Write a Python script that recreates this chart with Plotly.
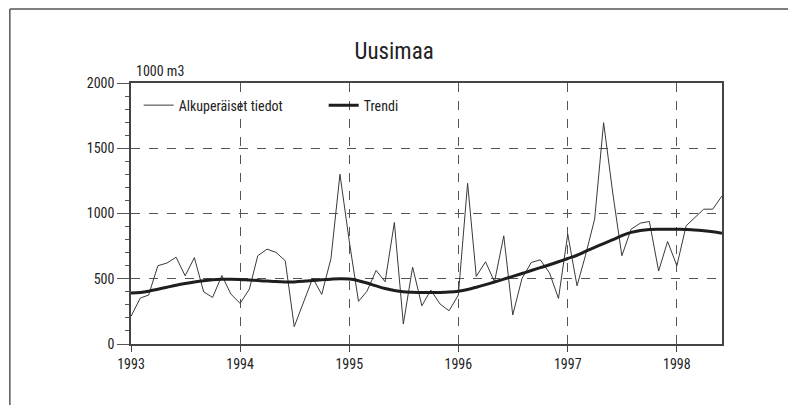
import plotly.graph_objects as go
import pandas as pd

months = pd.date_range("1993-01-01", "1998-06-01", freq="MS").strftime("%Y-%m-%d").tolist()

original = [212, 352, 375, 600, 620, 665, 523, 662, 400, 357, 525, 383,
            311, 421, 676, 727, 702, 638, 133, 319, 505, 380, 656, 1301,
            790, 327, 403, 564, 477, 931, 153, 589, 293, 413, 306, 255,
            375, 1232, 518, 630, 477, 829, 222, 503, 625, 645, 545, 349,
            842, 446, 676, 957, 1696, 1150, 676, 880, 926, 939, 559, 786,
            600, 906, 969, 1033, 1033, 1135]

trend = [390, 395, 405, 420, 435, 450, 463, 475, 485, 492, 496, 497,
         495, 490, 486, 482, 478, 476, 476, 480, 486, 492, 497, 500,
         498, 485, 467, 445, 425, 410, 400, 396, 394, 394, 395, 398,
         405, 418, 435, 455, 475, 497, 518, 540, 563, 585, 607, 630,
         655, 680, 710, 740, 770, 800, 830, 855, 870, 878, 880, 880,
         879, 877, 874, 868, 860, 848]

year_ticks = ["1993-01-01", "1994-01-01", "1995-01-01", "1996-01-01", "1997-01-01", "1998-01-01"]
year_labels = ["1993", "1994", "1995", "1996", "1997", "1998"]
y_ticks = [0, 500, 1000, 1500, 2000]

FONT = "Liberation Sans Narrow, Roboto Condensed, Roboto, sans-serif"

fig = go.Figure()
fig.add_trace(go.Scatter(x=months, y=original, mode="lines", name="Alkuperäiset tiedot",
                         line=dict(color="#3a3a3a", width=1)))
fig.add_trace(go.Scatter(x=months, y=trend, mode="lines", name="Trendi",
                         line=dict(color="#1e1e1e", width=3, shape="spline")))

fig.update_layout(
    width=788, height=397,
    margin=dict(l=123, r=74, t=75, b=61),
    paper_bgcolor="white", plot_bgcolor="white",
    font=dict(family=FONT, size=14, color="#222"),
    title=dict(text="Uusimaa", x=0.49, xanchor="center", y=0.893, yanchor="middle",
               font=dict(family=FONT, size=23, color="#222")),
    showlegend=True,
    legend=dict(orientation="h", x=0.013, y=0.975, xanchor="left", yanchor="top",
                bgcolor="rgba(0,0,0,0)", font=dict(family=FONT, size=14, color="#222"),
                entrywidth=140, entrywidthmode="pixels", traceorder="normal"),
    xaxis=dict(range=["1993-01-01", "1998-06-01"], tickmode="array", tickvals=year_ticks,
               ticktext=year_labels, showgrid=True, gridcolor="#555", griddash="dash",
               gridwidth=1, showline=True, linecolor="#444", linewidth=1.5, mirror=True,
               ticks="outside", ticklen=6, tickcolor="#444", zeroline=False,
               tickfont=dict(family=FONT, size=14, color="#222")),
    yaxis=dict(range=[0, 2000], tickmode="array", tickvals=y_ticks,
               showgrid=True, gridcolor="#555", griddash="dash", gridwidth=1,
               showline=True, linecolor="#444", linewidth=1.5, mirror=True,
               ticks="outside", ticklen=12, tickcolor="#555", zeroline=False,
               minor=dict(dtick=100, ticks="outside", ticklen=4, tickcolor="#555", showgrid=False),
               tickfont=dict(family=FONT, size=14, color="#222")),
    annotations=[dict(text="1000 m3", xref="paper", yref="paper", x=0.005, y=1.008,
                      xanchor="left", yanchor="bottom", showarrow=False,
                      font=dict(family=FONT, size=14, color="#222"))],
    shapes=[
        dict(type="line", xref="paper", yref="paper", x0=-0.205, x1=1.2, y0=1.284, y1=1.284,
             line=dict(color="#555", width=1.5)),
        dict(type="line", xref="paper", yref="paper", x0=-0.205, x1=-0.205, y0=1.284, y1=-0.25,
             line=dict(color="#555", width=1.5)),
    ],
)

fig.write_html("out.html")
